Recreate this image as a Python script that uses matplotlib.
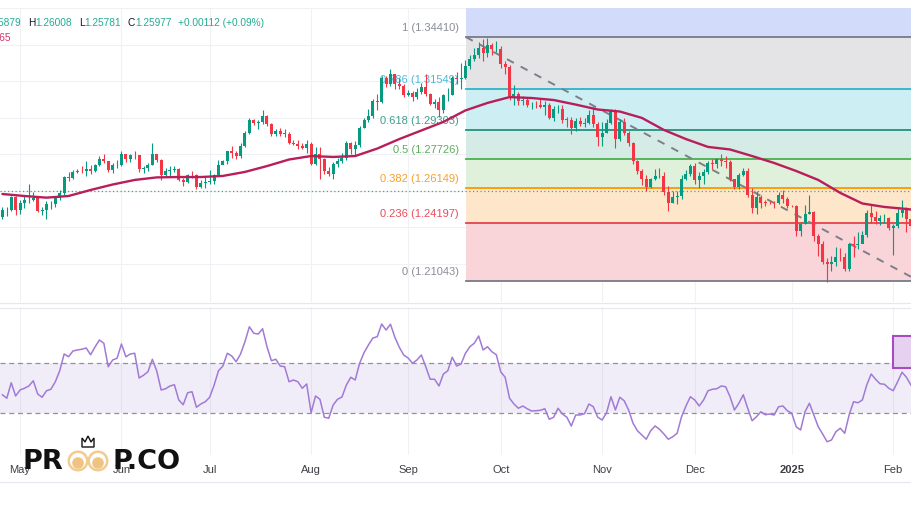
import matplotlib
matplotlib.use("Agg")
import matplotlib.pyplot as plt
from matplotlib.lines import Line2D
from matplotlib.patches import Rectangle, Circle, Polygon
import numpy as np
import pandas as pd

# GBP/USD daily bars, weekdays 25 Apr 2024 .. 7 Feb 2025
dates = pd.bdate_range("2024-04-25", "2025-02-07")

first_open = 1.2455
closes = [
    # Apr
    1.2492, 1.2494, 1.2563, 1.2491,
    # May
    1.2533, 1.2546, 1.2546, 1.2560, 1.2490, 1.2494, 1.2524, 1.2525, 1.2560, 1.2588,
    1.2676, 1.2667, 1.2703, 1.2709, 1.2706, 1.2720, 1.2708, 1.2740, 1.2773, 1.2763,
    1.2712, 1.2738, 1.2741,
    # Jun
    1.2798, 1.2775, 1.2795, 1.2792, 1.2718, 1.2726, 1.2742, 1.2798, 1.2770, 1.2684,
    1.2706, 1.2710, 1.2718, 1.2655, 1.2647, 1.2686, 1.2685, 1.2617, 1.2643, 1.2645,
    # Jul
    1.2650, 1.2686, 1.2741, 1.2762, 1.2814, 1.2805, 1.2790, 1.2846, 1.2917, 1.2987,
    1.2970, 1.2974, 1.3009, 1.2963, 1.2911, 1.2925, 1.2911, 1.2912, 1.2863, 1.2857,
    1.2846, 1.2834, 1.2855,
    # Aug
    1.2747, 1.2800, 1.2774, 1.2706, 1.2690, 1.2744, 1.2764, 1.2778, 1.2860, 1.2826,
    1.2847, 1.2944, 1.2985, 1.3009, 1.3088, 1.3083, 1.3215, 1.3186, 1.3239, 1.3183,
    1.3171, 1.3124,
    # Sep
    1.3136, 1.3115, 1.3141, 1.3167, 1.3128, 1.3075, 1.3084, 1.3042, 1.3122, 1.3126,
    1.3214, 1.3212, 1.3214, 1.3282, 1.3322, 1.3344, 1.3380, 1.3355, 1.3398, 1.3374,
    1.3376,
    # Oct
    1.3292, 1.3277, 1.3120, 1.3128, 1.3088, 1.3096, 1.3066, 1.3070, 1.3067, 1.3058,
    1.3070, 1.2997, 1.3046, 1.3048, 1.2989, 1.2988, 1.2940, 1.2980, 1.2966, 1.2969,
    1.3014, 1.2962, 1.2895,
    # Nov
    1.2916, 1.2969, 1.3035, 1.2882, 1.2975, 1.2916, 1.2861, 1.2760, 1.2706, 1.2665,
    1.2620, 1.2665, 1.2680, 1.2679, 1.2590, 1.2530, 1.2565, 1.2568, 1.2663, 1.2691,
    1.2733,
    # Dec
    1.2656, 1.2680, 1.2700, 1.2753, 1.2743, 1.2773, 1.2762, 1.2757, 1.2663, 1.2618,
    1.2683, 1.2709, 1.2575, 1.2504, 1.2567, 1.2534, 1.2533, 1.2531, 1.2530, 1.2574,
    1.2551, 1.2516,
    # Jan
    1.2515, 1.2379, 1.2419, 1.2474, 1.2483, 1.2350, 1.2305, 1.2207, 1.2198, 1.2210,
    1.2237, 1.2236, 1.2168, 1.2305, 1.2302, 1.2307, 1.2355, 1.2478, 1.2457, 1.2435,
    1.2449, 1.2450, 1.2394,
    # Feb
    1.2406, 1.2478, 1.2494, 1.2442, 1.2406,
]
highs = [
    1.2509, 1.2510, 1.2570, 1.2569,
    1.2548, 1.2569, 1.2634, 1.2594, 1.2568, 1.2510, 1.2541, 1.2540, 1.2569, 1.2601,
    1.2681, 1.2700, 1.2712, 1.2718, 1.2735, 1.2760, 1.2740, 1.2746, 1.2787, 1.2800,
    1.2764, 1.2751, 1.2765,
    1.2818, 1.2800, 1.2798, 1.2817, 1.2795, 1.2736, 1.2750, 1.2860, 1.2799, 1.2772,
    1.2721, 1.2737, 1.2737, 1.2721, 1.2667, 1.2693, 1.2708, 1.2690, 1.2660, 1.2675,
    1.2710, 1.2692, 1.2767, 1.2770, 1.2818, 1.2845, 1.2818, 1.2860, 1.2925, 1.2995,
    1.2994, 1.2984, 1.3044, 1.3015, 1.2970, 1.2937, 1.2941, 1.2938, 1.2920, 1.2879,
    1.2875, 1.2859, 1.2875,
    1.2865, 1.2839, 1.2840, 1.2780, 1.2727, 1.2756, 1.2777, 1.2808, 1.2874, 1.2865,
    1.2873, 1.2955, 1.3000, 1.3045, 1.3104, 1.3130, 1.3230, 1.3229, 1.3266, 1.3240,
    1.3217, 1.3185,
    1.3150, 1.3145, 1.3162, 1.3188, 1.3238, 1.3133, 1.3100, 1.3110, 1.3130, 1.3160,
    1.3226, 1.3250, 1.3298, 1.3315, 1.3342, 1.3380, 1.3416, 1.3429, 1.3434, 1.3410,
    1.3419,
    1.3390, 1.3312, 1.3287, 1.3180, 1.3138, 1.3116, 1.3110, 1.3086, 1.3092, 1.3100,
    1.3093, 1.3080, 1.3061, 1.3071, 1.3071, 1.3003, 1.3003, 1.2997, 1.3003, 1.2996,
    1.3043, 1.3060, 1.2973,
    1.2975, 1.2990, 1.3048, 1.3047, 1.2991, 1.2995, 1.2925, 1.2866, 1.2768, 1.2719,
    1.2685, 1.2670, 1.2717, 1.2721, 1.2699, 1.2625, 1.2599, 1.2600, 1.2687, 1.2711,
    1.2748,
    1.2749, 1.2701, 1.2719, 1.2762, 1.2773, 1.2781, 1.2798, 1.2790, 1.2770, 1.2665,
    1.2698, 1.2722, 1.2725, 1.2616, 1.2595, 1.2578, 1.2548, 1.2541, 1.2544, 1.2593,
    1.2604, 1.2565,
    1.2521, 1.2520, 1.2430, 1.2520, 1.2576, 1.2489, 1.2363, 1.2322, 1.2231, 1.2240,
    1.2293, 1.2285, 1.2256, 1.2312, 1.2351, 1.2375, 1.2378, 1.2491, 1.2523, 1.2489,
    1.2468, 1.2474, 1.2454,
    1.2416, 1.2511, 1.2550, 1.2508, 1.2469,
]
lows = [
    1.2444, 1.2463, 1.2489, 1.2468,
    1.2470, 1.2505, 1.2534, 1.2540, 1.2485, 1.2467, 1.2446, 1.2500, 1.2512, 1.2547,
    1.2576, 1.2652, 1.2661, 1.2695, 1.2696, 1.2682, 1.2690, 1.2702, 1.2733, 1.2753,
    1.2700, 1.2698, 1.2726,
    1.2736, 1.2754, 1.2756, 1.2775, 1.2700, 1.2695, 1.2705, 1.2740, 1.2756, 1.2656,
    1.2680, 1.2675, 1.2700, 1.2654, 1.2623, 1.2640, 1.2670, 1.2611, 1.2612, 1.2612,
    1.2637, 1.2635, 1.2681, 1.2747, 1.2748, 1.2777, 1.2774, 1.2781, 1.2840, 1.2910,
    1.2958, 1.2936, 1.2965, 1.2954, 1.2898, 1.2898, 1.2900, 1.2891, 1.2856, 1.2850,
    1.2827, 1.2830, 1.2803,
    1.2740, 1.2738, 1.2665, 1.2688, 1.2681, 1.2665, 1.2728, 1.2750, 1.2770, 1.2802,
    1.2788, 1.2837, 1.2943, 1.2977, 1.2995, 1.3043, 1.3077, 1.3170, 1.3175, 1.3159,
    1.3154, 1.3114,
    1.3118, 1.3088, 1.3100, 1.3128, 1.3118, 1.3068, 1.3050, 1.3001, 1.3024, 1.3092,
    1.3121, 1.3182, 1.3154, 1.3213, 1.3264, 1.3310, 1.3326, 1.3311, 1.3331, 1.3345,
    1.3358,
    1.3273, 1.3240, 1.3095, 1.3068, 1.3068, 1.3070, 1.3059, 1.3048, 1.3050, 1.3050,
    1.3012, 1.2990, 1.2980, 1.3026, 1.2970, 1.2948, 1.2908, 1.2925, 1.2955, 1.2946,
    1.2965, 1.2947, 1.2844,
    1.2844, 1.2914, 1.2963, 1.2835, 1.2873, 1.2905, 1.2845, 1.2746, 1.2691, 1.2630,
    1.2598, 1.2615, 1.2657, 1.2670, 1.2575, 1.2487, 1.2530, 1.2528, 1.2556, 1.2660,
    1.2679,
    1.2638, 1.2616, 1.2634, 1.2691, 1.2718, 1.2724, 1.2735, 1.2725, 1.2652, 1.2606,
    1.2610, 1.2677, 1.2562, 1.2476, 1.2474, 1.2506, 1.2513, 1.2525, 1.2506, 1.2527,
    1.2532, 1.2503,
    1.2510, 1.2352, 1.2350, 1.2417, 1.2470, 1.2321, 1.2239, 1.2199, 1.2100, 1.2157,
    1.2184, 1.2212, 1.2160, 1.2160, 1.2236, 1.2279, 1.2312, 1.2343, 1.2424, 1.2417,
    1.2409, 1.2422, 1.2385,
    1.2249, 1.2397, 1.2455, 1.2373, 1.2383,
]

# moving average, read every 5 bars
ma_idx = list(range(0, 206, 5)) + [206]
ma_vals = [1.2581, 1.2570, 1.2561, 1.2570, 1.2603, 1.2633, 1.2658, 1.2672, 1.2674, 1.2674,
           1.2680, 1.2702, 1.2734, 1.2770, 1.2789, 1.2784, 1.2789, 1.2830, 1.2882, 1.2929,
           1.2976, 1.3039, 1.3080, 1.3112, 1.3107, 1.3096, 1.3071, 1.3044, 1.3033, 1.2998,
           1.2932, 1.2882, 1.2839, 1.2825, 1.2789, 1.2751, 1.2707, 1.2658, 1.2587, 1.2529,
           1.2510, 1.2499, 1.2496]

rsi = [47.3, 45.9, 52.1, 46.8, 49.2, 49.9, 50.8, 52.9, 47.6, 46.3,
       48.9, 49.5, 52.5, 56.9, 63.6, 62.5, 64.8, 65.2, 65.5, 66.0,
       63.3, 66.4, 69.2, 67.9, 58.5, 61.2, 61.9, 67.6, 62.5, 63.6,
       63.9, 54.0, 55.1, 56.5, 61.5, 56.8, 49.2, 49.7, 50.8, 51.3,
       45.2, 43.3, 48.1, 48.5, 42.3, 43.6, 44.5, 46.3, 51.1, 56.9,
       58.8, 63.9, 62.8, 60.5, 63.6, 68.5, 74.5, 71.9, 71.6, 73.7,
       66.5, 60.9, 61.5, 58.8, 58.5, 52.5, 53.2, 52.5, 49.9, 51.6,
       40.1, 46.8, 45.5, 38.3, 37.9, 43.2, 45.5, 46.4, 51.2, 54.3,
       53.2, 59.9, 64.1, 67.2, 70.0, 70.5, 75.6, 73.2, 75.5, 70.3,
       66.3, 63.2, 62.0, 59.9, 61.2, 63.2, 58.5, 53.5, 53.5, 50.8,
       55.6, 56.9, 62.3, 58.8,
       59.6, 63.9, 66.5, 67.9, 70.8, 65.2, 66.5, 64.5, 63.3, 56.5,
       54.3, 45.9, 43.6, 41.9, 42.8, 41.7, 40.8, 40.9, 41.1, 41.7,
       37.5, 38.3, 41.9, 39.6, 38.3, 34.8, 39.2, 39.2, 39.7, 43.6,
       42.5, 38.3, 37.2, 40.1, 46.5, 41.2, 46.3, 44.9, 41.2, 35.9,
       32.9, 31.2, 29.5, 32.9, 34.8, 33.5, 31.6, 29.5, 30.5, 31.9,
       38.5, 42.8, 46.5, 45.2, 42.8, 45.2, 48.9, 49.5, 49.7, 50.8,
       50.5, 46.5, 41.2, 43.9, 47.3, 41.9, 36.9, 38.5, 40.5, 39.3,
       39.6, 39.2, 42.5, 42.8, 40.9, 39.9, 34.5, 33.2, 40.5, 43.9,
       39.2, 34.5, 31.6, 28.5, 29.2, 32.5, 33.9, 31.9, 39.2, 44.5,
       44.1, 45.2, 51.2, 55.6, 53.5, 51.7, 51.5, 49.9, 48.9, 52.5,
       56.3, 54.3, 51.2]
rsi_upper, rsi_lower = 60, 40

fib_ratios = ["1", "0.786", "0.618", "0.5", "0.382", "0.236", "0"]
fib_prices = [1.34410, 1.31549, 1.29303, 1.27726, 1.26149, 1.24197, 1.21043]
fib_line_colors = ["#787b86", "#2fb3c8", "#23917b", "#4caf50", "#ff9800", "#e5414e", "#787b86"]
fib_text_colors = ["#8a8d96", "#4cb8dc", "#3f9e8c", "#5cad5c", "#f6a12a", "#e84d5b", "#8a8d96"]
fib_fill_colors = ["#d3dbfa", "#e4e4e7", "#cdeff3", "#d5ece6", "#dff0db", "#fde6c9", "#f9d4d8"]
fib_start, fib_end = 105.1, 207.8

last_close = 1.25977
header = [("H", "1.26008", 28), ("L", "1.25781", 79), ("C", "1.25977", 128)]

GREEN, RED = "#089981", "#f23645"
W, H = 912, 513

plt.rcParams["font.family"] = ["Liberation Sans", "DejaVu Sans"]
fig = plt.figure(figsize=(W / 100, H / 100), dpi=100)


def fy(py):
    return 1 - py / H


ax = fig.add_axes([0, fy(302), 1, (302 - 8) / H])
rx = fig.add_axes([0, fy(455), 1, (455 - 307) / H])

closes = np.array(closes)
highs = np.array(highs)
lows = np.array(lows)
opens = np.concatenate([[first_open], closes[:-1]])
idx = np.arange(len(closes))

month_pos = [i for i in range(1, len(dates)) if dates[i].month != dates[i - 1].month]
month_lab = ["2025" if dates[i].month == 1 else dates[i].strftime("%b") for i in month_pos]

x0, x1 = -0.544, 206.26
for a in (ax, rx):
    a.set_xlim(x0, x1)
    for s in a.spines.values():
        s.set_visible(False)
    a.set_xticks(month_pos)
    a.grid(axis="x", color="#eff1f5", lw=0.8)
    a.set_axisbelow(True)
    a.tick_params(length=0, labelleft=False)

# price pane
ax.set_ylim(1.19892, 1.36002)
ax.set_yticks(np.arange(1.22, 1.361, 0.02))
ax.grid(axis="y", color="#eff1f5", lw=0.8)
ax.tick_params(labelbottom=False)

top = 1.40
bounds = [top] + fib_prices
for k in range(len(fib_prices)):
    ax.fill_between([fib_start, fib_end + 5], bounds[k + 1], bounds[k],
                    color=fib_fill_colors[k], lw=0, zorder=1)
for k, p in enumerate(fib_prices):
    ax.plot([fib_start, fib_end + 5], [p, p], color=fib_line_colors[k], lw=1.3, zorder=1.4)
    ax.annotate(f"{fib_ratios[k]} ({p:.5f})", xy=(fib_start, p), xytext=(-7, 4),
                textcoords="offset pixels", ha="right", va="bottom",
                fontsize=8, color=fib_text_colors[k], zorder=1.3)
ax.plot([fib_start, fib_end], [fib_prices[0], fib_prices[-1]], color="#7d7f88",
        lw=1.4, dashes=(4, 4), zorder=1.6)

ax.axhline(last_close, color="#3aa892", lw=0.9, dashes=(1, 2), zorder=1.7)

col = np.where(closes >= opens, GREEN, RED)
ax.vlines(idx, lows, highs, colors=col, lw=0.8, zorder=2)
body = np.maximum(np.abs(closes - opens), 0.0002)
ax.bar(idx, body, bottom=np.minimum(opens, closes), width=0.68, color=col, lw=0, zorder=2.1)

ax.plot(ma_idx, ma_vals, color="#b81f5a", lw=1.7, solid_capstyle="round", zorder=3)

# RSI pane
rx.set_ylim(23.2, 82.4)
rx.set_yticks([])
rx.set_xticklabels(month_lab, fontsize=8, color="#3d3f45")
rx.tick_params(axis="x", pad=7)
for t in rx.get_xticklabels():
    if t.get_text() == "2025":
        t.set_fontweight("bold")
rx.axhspan(rsi_lower, rsi_upper, color="#7e57c2", alpha=0.1, lw=0, zorder=1)
for lvl in (rsi_upper, rsi_lower):
    rx.axhline(lvl, color="#8f929b", lw=0.9, dashes=(4, 3), zorder=1.2)
rx.plot(idx, rsi, color="#a07ad6", lw=1.1, zorder=2)
rx.add_patch(Rectangle((201.95, 58), 10, 12.8, fc="#e6d2f0", ec="#a54cc0", lw=1.5,
                       zorder=3, clip_on=True))

# pane borders
for py in (302.5, 307.5, 481.5):
    fig.add_artist(Line2D([0, 1], [fy(py)] * 2, color="#e6e8ee", lw=0.9))

# legend header (clipped at the left edge like the reference)
hy = fy(23)
fig.text(21 / W, hy, "1.25879", ha="right", va="center", fontsize=7.3, color="#22ab94")
for letter, val, px in header:
    t = fig.text(px / W, hy, letter, va="center", fontsize=7.3, color="#131722")
    ax.annotate(val, xy=(1, 0), xycoords=t, va="bottom", ha="left",
                fontsize=7.3, color="#22ab94", annotation_clip=False)
fig.text(178 / W, hy, "+0.00112 (+0.09%)", va="center", fontsize=7.3, color="#22ab94")
fig.text(11 / W, fy(38), "1.24965", ha="right", va="center", fontsize=7.3, color="#d6336c")

# watermark logo
lg = fig.add_axes([20 / W, fy(482), 170 / W, 50 / H])
lg.set_xlim(20, 190)
lg.set_ylim(482, 432)
lg.axis("off")
lg.text(23, 469, "PR", fontsize=19.5, fontweight="bold", color="#111111", va="baseline",
        family="DejaVu Sans")
lg.text(113, 469, "P.CO", fontsize=19.5, fontweight="bold", color="#111111", va="baseline",
        family="DejaVu Sans")
for cx in (78, 98):
    lg.add_patch(Circle((cx, 461), 10.5, fc="#f3cb8f", ec="none"))
    lg.add_patch(Circle((cx, 461), 8.0, fc="white", ec="none"))
    lg.add_patch(Circle((cx, 463), 5.8, fc="#f0c383", ec="none"))
lg.add_patch(Polygon([(82, 447), (82, 438), (85, 442), (88, 436), (91, 442),
                      (94, 438), (94, 447)], closed=True, fc="none", ec="#111111", lw=1))

fig.savefig("out.png", dpi=100)
